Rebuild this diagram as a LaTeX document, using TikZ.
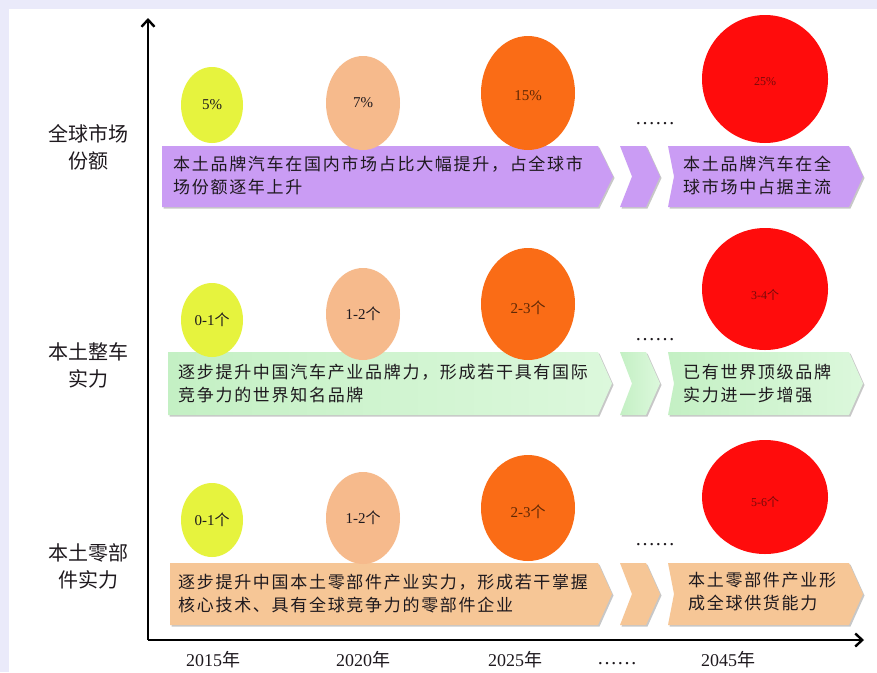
\documentclass[tikz,border=0pt]{standalone}
\usepackage{fontspec}
\setmainfont{Liberation Serif}
\newfontfamily\cjk{Noto Sans CJK SC}
\newfontfamily\cjks{Noto Sans CJK SC}[LetterSpace=10]
\usetikzlibrary{arrows.meta,shapes.geometric,shadows}
\definecolor{bgl}{RGB}{234,234,250}
\definecolor{cYel}{RGB}{230,243,62}
\definecolor{cPea}{RGB}{246,186,140}
\definecolor{cOra}{RGB}{250,108,22}
\definecolor{cRed}{RGB}{255,12,12}
\definecolor{cPur}{RGB}{202,156,244}
\definecolor{cGrL}{RGB}{196,240,196}
\definecolor{cGrR}{RGB}{220,248,220}
\definecolor{cOrA}{RGB}{246,198,150}
\definecolor{txt}{RGB}{30,25,30}
\definecolor{txtO}{RGB}{95,40,5}
\definecolor{txtR}{RGB}{120,10,10}
\newcommand\mydescfont{\cjks\fontsize{17}{23}\selectfont}
\newcommand\myrowfont{\cjk\fontsize{20}{27}\selectfont}
\begin{document}
\begin{tikzpicture}[x=1pt,y=-1pt,
  axis/.style={line width=2.8pt,-{Straight Barb[length=7pt,width=13pt,line width=2.4pt]}},
  bub/.style={ellipse,inner sep=0pt,draw=none},
  blab/.style={font=\fontsize{15}{15}\selectfont,text=txt},
  blabO/.style={font=\fontsize{15}{15}\selectfont,text=txtO},
  blabR/.style={font=\fontsize{12}{12}\selectfont,text=txtR},
  desc/.style={anchor=west,align=left,inner sep=0pt,font=\mydescfont,text=txt},
  rowlab/.style={align=center,inner sep=0pt,font=\myrowfont,text=txt},
  year/.style={anchor=base,inner sep=0pt,font=\fontsize{18}{18}\selectfont,text=txt},
  dotsl/.style={inner sep=0pt,font=\fontsize{20}{20}\selectfont,text=txt},
  shad/.style={drop shadow={shadow xshift=1.5pt,shadow yshift=-1.5pt,opacity=0.22,fill=black}}
]
\useasboundingbox (0,0) rectangle (877,672);
\fill[bgl] (0,0) rectangle (877,672);
\fill[white] (9,9) rectangle (877,672);

% axes
\coordinate (O) at (148,640);
\coordinate (Ytip) at (148,18);
\coordinate (Xtip) at (864,640);
\draw[axis] (O) -- (Ytip);
\draw[axis] (O) -- (Xtip);

% row labels
\node[rowlab] (L1) at (88,147) {全球市场\\份额};
\node[rowlab] (L2) at (88,365) {本土整车\\实力};
\node[rowlab] (L3) at (88,566) {本土零部\\件实力};

% ---- row 1 arrows
\fill[cPur,shad] (162,146) -- (598,146) -- (613,176.5) -- (598,207) -- (162,207) -- cycle;
\fill[cPur,shad] (620,146) -- (646,146) -- (660,176.5) -- (646,207) -- (620,207) -- (632,176.5) -- cycle;
\fill[cPur,shad] (668,146) -- (849,146) -- (863,176.5) -- (849,207) -- (668,207) -- (674,176.5) -- cycle;
\node[desc] (d1) at (173,175) {本土品牌汽车在国内市场占比大幅提升，占全球市\\场份额逐年上升};
\node[desc] (r1) at (683,175) {本土品牌汽车在全\\球市场中占据主流};

% ---- row 2 arrows
\shade[left color=cGrL,right color=cGrR,shad] (168,352) -- (598,352) -- (612,383.5) -- (598,415) -- (168,415) -- cycle;
\shade[left color=cGrL,right color=cGrR,shad] (620,352) -- (646,352) -- (660,383.5) -- (646,415) -- (620,415) -- (632,383.5) -- cycle;
\shade[left color=cGrL,right color=cGrR,shad] (668,352) -- (849,352) -- (863,383.5) -- (849,415) -- (668,415) -- (674,383.5) -- cycle;
\node[desc] (d2) at (178,384) {逐步提升中国汽车产业品牌力，形成若干具有国际\\竞争力的世界知名品牌};
\node[desc] (r2) at (683,384) {已有世界顶级品牌\\实力进一步增强};

% ---- row 3 arrows
\fill[cOrA,shad] (170,563) -- (598,563) -- (612,594) -- (598,625) -- (170,625) -- cycle;
\fill[cOrA,shad] (620,563) -- (646,563) -- (660,594) -- (646,625) -- (620,625) -- (632,594) -- cycle;
\fill[cOrA,shad] (668,563) -- (849,563) -- (863,594) -- (849,625) -- (668,625) -- (674,594) -- cycle;
\node[desc] (d3) at (178,594) {逐步提升中国本土零部件产业实力，形成若干掌握\\核心技术、具有全球竞争力的零部件企业};
\node[desc] (r3) at (688,592) {本土零部件产业形\\成全球供货能力};

% ---- bubbles row 1
\node[bub,fill=cYel,minimum width=62,minimum height=76] (b11) at (212,105) {};
\node[blab] (t11) at (b11) {5\%};
\node[bub,fill=cPea,minimum width=74,minimum height=94] (b12) at (363,103) {};
\node[blab] (t12) at (b12) {7\%};
\node[bub,fill=cOra,minimum width=94,minimum height=114] (b13) at (528,93) {};
\node[blabO] (t13) at ([yshift=-3pt]b13) {15\%};
\node[bub,fill=cRed,minimum width=126,minimum height=128] (b14) at (765,79) {};
\node[blabR] (t14) at ([yshift=-3pt]b14) {25\%};
\node[dotsl] (k1) at (655,124) {……};

% ---- bubbles row 2
\node[bub,fill=cYel,minimum width=62,minimum height=74] (b21) at (212,320) {};
\node[blab] (t21) at (b21) {0-1{\cjk 个}};
\node[bub,fill=cPea,minimum width=74,minimum height=92] (b22) at (363,314) {};
\node[blab] (t22) at (b22) {1-2{\cjk 个}};
\node[bub,fill=cOra,minimum width=94,minimum height=112] (b23) at (528,304) {};
\node[blabO] (t23) at ([yshift=-4pt]b23) {2-3{\cjk 个}};
\node[bub,fill=cRed,minimum width=126,minimum height=122] (b24) at (765,289) {};
\node[blabR] (t24) at ([yshift=-6pt]b24) {3-4{\cjk 个}};
\node[dotsl] (k2) at (655,340) {……};

% ---- bubbles row 3
\node[bub,fill=cYel,minimum width=62,minimum height=74] (b31) at (212,520) {};
\node[blab] (t31) at (b31) {0-1{\cjk 个}};
\node[bub,fill=cPea,minimum width=74,minimum height=92] (b32) at (363,518) {};
\node[blab] (t32) at (b32) {1-2{\cjk 个}};
\node[bub,fill=cOra,minimum width=94,minimum height=106] (b33) at (528,508) {};
\node[blabO] (t33) at ([yshift=-4pt]b33) {2-3{\cjk 个}};
\node[bub,fill=cRed,minimum width=126,minimum height=114] (b34) at (765,497) {};
\node[blabR] (t34) at ([yshift=-5pt]b34) {5-6{\cjk 个}};
\node[dotsl] (k3) at (655,545) {……};

% ---- years
\node[year] (y1) at (213,666) {2015{\cjk 年}};
\node[year] (y2) at (363,666) {2020{\cjk 年}};
\node[year] (y3) at (515,666) {2025{\cjk 年}};
\node[dotsl] (y4) at (617,664) {……};
\node[year] (y5) at (728,666) {2045{\cjk 年}};
\end{tikzpicture}
\end{document}
